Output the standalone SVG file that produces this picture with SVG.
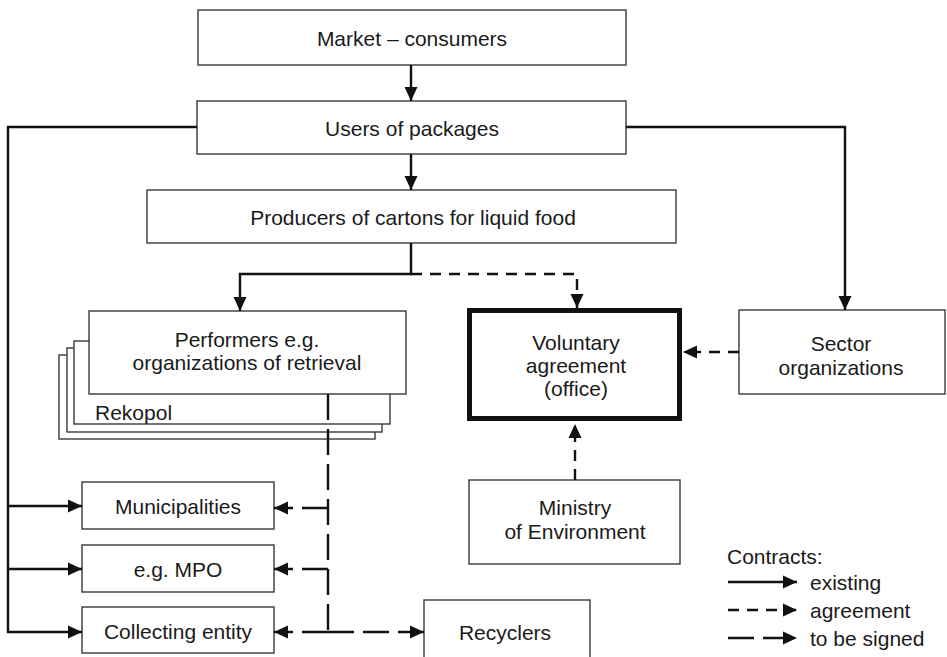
<svg xmlns="http://www.w3.org/2000/svg" width="947" height="657" viewBox="0 0 947 657">
  <style>
    .box { fill: #fff; stroke: #3a3a3a; stroke-width: 1.4; }
    .thick { fill: #fff; stroke: #111; stroke-width: 5; }
    .lbl { font-family: "Liberation Sans", Arial, sans-serif; font-size: 21px; fill: #1a1a1a; text-anchor: middle; dominant-baseline: central; }
    .lbl.left { text-anchor: start; }
    .solid { fill: none; stroke: #111; stroke-width: 2.4; }
    .agree { fill: none; stroke: #111; stroke-width: 2.4; stroke-dasharray: 11 8; }
    .sign { fill: none; stroke: #111; stroke-width: 2.4; stroke-dasharray: 26 9; }
  </style>
  <defs>
    <marker id="ah" markerUnits="userSpaceOnUse" markerWidth="15" markerHeight="15" refX="14" refY="7.5" orient="auto">
      <path d="M0,1 L14,7.5 L0,14 z" fill="#111"/>
    </marker>
  </defs>
  <rect width="947" height="657" fill="#fff"/>

  <!-- nodes -->
  <g id="market">
    <rect class="box" x="198" y="10" width="428" height="55"/>
    <text class="lbl" x="412" y="38">Market – consumers</text>
  </g>
  <g id="users">
    <rect class="box" x="197" y="101" width="429" height="53"/>
    <text class="lbl" x="412" y="128">Users of packages</text>
  </g>
  <g id="producers">
    <rect class="box" x="147" y="190" width="529" height="53"/>
    <text class="lbl" x="413" y="217">Producers of cartons for liquid food</text>
  </g>
  <g id="performers">
    <rect class="box" x="59" y="355" width="316" height="84"/>
    <rect class="box" x="67" y="348" width="315" height="84"/>
    <rect class="box" x="74" y="341" width="316" height="83"/>
    <text class="lbl left" x="95" y="412">Rekopol</text>
    <rect class="box" x="89" y="311" width="317" height="83"/>
    <text class="lbl" x="247" y="339">Performers e.g.</text>
    <text class="lbl" x="247" y="362">organizations of retrieval</text>
  </g>
  <g id="voluntary">
    <rect class="thick" x="469.5" y="310.5" width="210" height="108"/>
    <text class="lbl" x="576" y="342">Voluntary</text>
    <text class="lbl" x="576" y="365">agreement</text>
    <text class="lbl" x="576" y="388">(office)</text>
  </g>
  <g id="sector">
    <rect class="box" x="739" y="310" width="206" height="84"/>
    <text class="lbl" x="841" y="343">Sector</text>
    <text class="lbl" x="841" y="367">organizations</text>
  </g>
  <g id="ministry">
    <rect class="box" x="469" y="480" width="211" height="84"/>
    <text class="lbl" x="575" y="507">Ministry</text>
    <text class="lbl" x="575" y="531">of Environment</text>
  </g>
  <g id="municipalities">
    <rect class="box" x="82" y="482" width="192" height="47"/>
    <text class="lbl" x="178" y="506">Municipalities</text>
  </g>
  <g id="mpo">
    <rect class="box" x="82" y="545" width="192" height="47"/>
    <text class="lbl" x="178" y="569">e.g. MPO</text>
  </g>
  <g id="collecting">
    <rect class="box" x="82" y="607" width="192" height="46"/>
    <text class="lbl" x="178" y="631">Collecting entity</text>
  </g>
  <g id="recyclers">
    <rect class="box" x="424" y="600" width="166" height="70"/>
    <text class="lbl" x="505" y="632">Recyclers</text>
  </g>

  <!-- connectors -->
  <g id="connectors">
    <path class="solid" d="M411,65 L411,101" marker-end="url(#ah)"/>
    <path class="solid" d="M411,154 L411,190" marker-end="url(#ah)"/>
    <path class="solid" d="M411,243 L411,274 L240,274 L240,311" marker-end="url(#ah)"/>
    <path class="agree" d="M411,274 L577,274 L577,308" marker-end="url(#ah)"/>
    <path class="solid" d="M626,127 L845,127 L845,310" marker-end="url(#ah)"/>
    <path class="solid" d="M197,127 L8,127 L8,632 L82,632" marker-end="url(#ah)"/>
    <path class="solid" d="M8,506 L82,506" marker-end="url(#ah)"/>
    <path class="solid" d="M8,569 L82,569" marker-end="url(#ah)"/>
    <path class="agree" d="M739,352 L683,352" marker-end="url(#ah)"/>
    <path class="agree" d="M575,480 L575,424" marker-end="url(#ah)"/>
    <path class="sign" d="M328,394 L328,632"/>
    <path class="sign" d="M328,508 L274,508" stroke-dasharray="8 9 40" marker-end="url(#ah)"/>
    <path class="sign" d="M328,569 L274,569" stroke-dasharray="26 9 40" marker-end="url(#ah)"/>
    <path class="sign" d="M328,632 L274,632" stroke-dasharray="26 9 40" marker-end="url(#ah)"/>
    <path class="sign" d="M328,632 L424,632" marker-end="url(#ah)"/>
  </g>

  <!-- legend -->
  <g id="legend">
    <text class="lbl left" x="727" y="556">Contracts:</text>
    <path class="solid" d="M728,582 L797,582" marker-end="url(#ah)"/>
    <text class="lbl left" x="810" y="582">existing</text>
    <path class="agree" d="M728,610 L797,610" stroke-dasharray="11 7" marker-end="url(#ah)"/>
    <text class="lbl left" x="810" y="610">agreement</text>
    <path class="sign" d="M728,638 L797,638" stroke-dasharray="25 8" marker-end="url(#ah)"/>
    <text class="lbl left" x="810" y="638">to be signed</text>
  </g>
</svg>
